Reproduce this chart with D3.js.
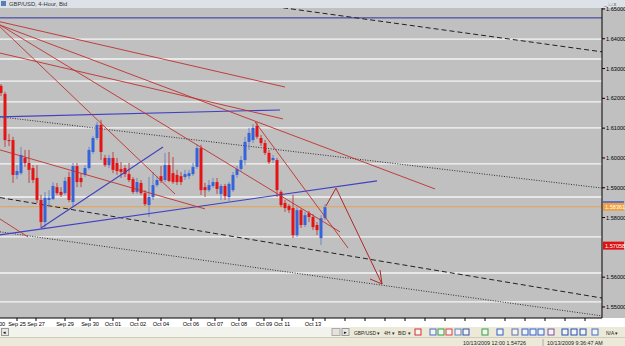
<!DOCTYPE html>
<html>
<head>
<meta charset="utf-8">
<title>GBP/USD 4-Hour</title>
<script src="https://d3js.org/d3.v7.min.js"></script>
<style>
  body { margin: 0; background: #ece9d8; }
  svg { display: block; font-family: "Liberation Sans", Arial, sans-serif; }
</style>
</head>
<body>
<svg id="chart" width="625" height="346"></svg>
<script>
  /* ---------- data ---------- */
  // 4-hour bars, oldest first
  const open = [1.6242,1.6215,1.6060,1.6060,1.5943,1.5949,1.6000,1.5983,1.5966,1.5933,
    1.5859,1.5785,1.5859,1.5862,1.5902,1.5886,1.5882,1.5936,1.5852,1.5973,
    1.5933,1.5943,1.5966,1.6020,1.6067,1.6111,1.6000,1.5976,1.6000,1.5983,
    1.5963,1.5966,1.5946,1.5929,1.5886,1.5916,1.5882,1.5842,1.5869,1.5909,
    1.5939,1.5926,1.5976,1.5949,1.5943,1.5939,1.5936,1.5939,1.5946,1.5970,
    1.6033,1.5902,1.5892,1.5906,1.5919,1.5879,1.5906,1.5869,1.5892,1.5943,
    1.5963,1.5993,1.6054,1.6060,1.6108,1.6067,1.6050,1.6017,1.5993,1.5993,
    1.5886,1.5849,1.5839,1.5832,1.5741,1.5825,1.5775,1.5815,1.5802,1.5775,
    1.5731,1.5798];
  const high = [1.6248,1.6222,1.6081,1.6071,1.5976,1.6037,1.6027,1.6027,1.5976,1.5976,
    1.5876,1.5886,1.5892,1.5919,1.5916,1.5902,1.5936,1.5953,1.5983,1.5983,
    1.5949,1.5976,1.6037,1.6074,1.6121,1.6128,1.6010,1.6010,1.6020,1.6000,
    1.5986,1.5976,1.5983,1.5936,1.5933,1.5926,1.5892,1.5936,1.5953,1.5939,
    1.5973,1.6017,1.6020,1.6003,1.5960,1.5953,1.5960,1.5960,1.5983,1.6044,
    1.6044,1.5916,1.5926,1.5933,1.5933,1.5913,1.5913,1.5919,1.5953,1.5973,
    1.6007,1.6071,1.6101,1.6114,1.6121,1.6077,1.6060,1.6027,1.6010,1.6000,
    1.5892,1.5859,1.5845,1.5876,1.5835,1.5829,1.5819,1.5822,1.5812,1.5785,
    1.5808,1.5845];
  const low = [1.6208,1.6037,1.6040,1.5916,1.5929,1.5943,1.5970,1.5916,1.5916,1.5849,
    1.5765,1.5765,1.5835,1.5859,1.5876,1.5869,1.5876,1.5852,1.5835,1.5902,
    1.5902,1.5936,1.5960,1.6013,1.6060,1.5993,1.5970,1.5966,1.5949,1.5943,
    1.5933,1.5936,1.5919,1.5879,1.5879,1.5876,1.5839,1.5802,1.5859,1.5902,
    1.5916,1.5919,1.5919,1.5913,1.5909,1.5909,1.5926,1.5929,1.5939,1.5963,
    1.5876,1.5869,1.5886,1.5899,1.5879,1.5859,1.5859,1.5855,1.5886,1.5933,
    1.5956,1.5976,1.6027,1.6050,1.6064,1.6040,1.6010,1.5980,1.5983,1.5869,
    1.5835,1.5819,1.5815,1.5731,1.5735,1.5765,1.5768,1.5785,1.5758,1.5741,
    1.5708,1.5792];
  const close = [1.6218,1.6060,1.6057,1.5943,1.5956,1.6010,1.5983,1.5960,1.5926,1.5859,
    1.5785,1.5866,1.5866,1.5906,1.5882,1.5876,1.5923,1.5859,1.5973,1.5919,
    1.5919,1.5966,1.6027,1.6067,1.6111,1.6020,1.5976,1.6000,1.5960,1.5956,
    1.5953,1.5946,1.5926,1.5886,1.5919,1.5882,1.5845,1.5869,1.5909,1.5926,
    1.5923,1.5976,1.5923,1.5919,1.5919,1.5919,1.5946,1.5949,1.5970,1.6033,
    1.5892,1.5892,1.5909,1.5919,1.5896,1.5906,1.5872,1.5913,1.5943,1.5963,
    1.5993,1.6054,1.6084,1.6101,1.6071,1.6050,1.6017,1.5986,1.6000,1.5892,
    1.5842,1.5832,1.5825,1.5741,1.5825,1.5775,1.5808,1.5802,1.5768,1.5758,
    1.5798,1.5835];

  // date labels on the time axis: [bar position, text]
  const dateLabels = [[-0.5,"00"],[4,"Sep 25"],[8.75,"Sep 27"],[16,"Sep 29"],[22.25,"Sep 30"],
    [28,"Oct 01"],[34.25,"Oct 02"],[40,"Oct 04"],[47.5,"Oct 06"],[53.5,"Oct 07"],
    [59.5,"Oct 08"],[65.75,"Oct 09"],[70.25,"Oct 11"],[78,"Oct 13"]];
  const futureTicks = [81,86,91,96,101,106,111,116,121,126,131,136,141,146];
  const priceTicks = [1.65,1.64,1.63,1.62,1.61,1.60,1.59,1.58,1.56,1.55];

  // horizontal levels drawn on the chart
  const whiteLevels = [1.6399,1.6332,1.6258,1.6188,1.6101,1.5980,1.5869,1.5735,1.5614,1.5517];
  const blueLevel = 1.6470;
  const bidLevel = 1.58361;
  const markLevel = 1.57058;

  // trend lines: [[bar, price], [bar, price]]
  const redLines = [
    [[-0.25,1.6457],[71,1.6238]],
    [[-0.25,1.6446],[108.5,1.5896]],
    [[-0.25,1.6352],[70.5,1.6131]],
    [[-0.25,1.6440],[43.5,1.5879]],
    [[-0.25,1.6446],[84.75,1.5752]],
    [[63.5,1.6121],[86.75,1.5698]],
    [[-0.25,1.6027],[51,1.5829]],
    [[-0.25,1.5795],[6.75,1.5735]]
  ];
  const blueLines = [
    [[-0.25,1.6138],[69.75,1.6161]],
    [[-0.25,1.5742],[94,1.5923]],
    [[10,1.5765],[40.5,1.6037]]
  ];
  const dashedLines = [
    [[70.5,1.6504],[150.25,1.6356]],
    [[-0.25,1.5867],[150.25,1.5530]]
  ];
  const dottedLines = [
    [[-0.25,1.6138],[150.25,1.5899]],
    [[-0.25,1.5752],[150.25,1.5470]]
  ];
  const arrowPath = [[81.25,1.5839],[83.75,1.5899],[95.25,1.5577]];
  const arrowHead = [[92.25,1.5594],[95.25,1.5577],[94.75,1.5624]];

  /* ---------- layout ---------- */
  const plotTop = 8, plotBottom = 318, plotRight = 602;
  const svg = d3.select("#chart");

  const x = d3.scaleLinear().domain([0, 81]).range([1, 325]);
  const y = d3.scaleLinear().domain([1.5463, 1.6530]).range([plotBottom, 0]);
  const line = d3.line().x(d => x(d[0])).y(d => y(d[1]));

  // window background pieces
  svg.append("rect").attr("width", 625).attr("height", 346).attr("fill", "#ece9d8");
  svg.append("rect").attr("width", 625).attr("height", plotTop).attr("fill", "#dde2e9");
  svg.append("rect").attr("y", plotTop).attr("width", 625).attr("height", plotBottom - plotTop).attr("fill", "#c0c0c0");
  svg.append("rect").attr("y", plotBottom).attr("width", 625).attr("height", 9).attr("fill", "#ffffff");

  svg.append("defs").append("clipPath").attr("id", "plotClip")
    .append("rect").attr("x", 0).attr("y", plotTop).attr("width", plotRight).attr("height", plotBottom - plotTop);

  const g = svg.append("g").attr("clip-path", "url(#plotClip)");

  // levels
  g.selectAll(".lvl").data(whiteLevels).enter().append("line")
    .attr("x1", 0).attr("x2", plotRight)
    .attr("y1", d => y(d)).attr("y2", d => y(d))
    .attr("stroke", "#f6f6f6").attr("stroke-width", 1.3);

  g.append("line").attr("x1", 0).attr("x2", plotRight)
    .attr("y1", y(blueLevel)).attr("y2", y(blueLevel))
    .attr("stroke", "#3030a0").attr("stroke-width", 1);

  g.append("line").attr("x1", 0).attr("x2", plotRight)
    .attr("y1", y(bidLevel)).attr("y2", y(bidLevel))
    .attr("stroke", "#e8a050").attr("stroke-width", 1);

  // dashed / dotted channel lines
  g.selectAll(".dash").data(dashedLines).enter().append("path")
    .attr("d", line).attr("fill", "none")
    .attr("stroke", "#202020").attr("stroke-width", 1).attr("stroke-dasharray", "5,3");
  g.selectAll(".dot").data(dottedLines).enter().append("path")
    .attr("d", line).attr("fill", "none")
    .attr("stroke", "#303030").attr("stroke-width", 1).attr("stroke-dasharray", "1,1.5");

  // candles
  const idx = d3.range(open.length);
  const up = i => close[i] >= open[i];
  g.selectAll(".wick").data(idx).enter().append("line")
    .attr("x1", i => x(i)).attr("x2", i => x(i))
    .attr("y1", i => y(high[i])).attr("y2", i => y(low[i]))
    .attr("stroke", i => up(i) ? "#6f86c4" : "#b84848").attr("stroke-width", 1);
  g.selectAll(".body").data(idx).enter().append("rect")
    .attr("x", i => x(i) - 1.5).attr("width", 3)
    .attr("y", i => y(Math.max(open[i], close[i])))
    .attr("height", i => Math.max(1, Math.abs(y(open[i]) - y(close[i]))))
    .attr("fill", i => up(i) ? "#3464dc" : "#e41414");

  // drawn lines
  g.selectAll(".blue").data(blueLines).enter().append("path")
    .attr("d", line).attr("fill", "none")
    .attr("stroke", "#4040c4").attr("stroke-width", 1.1);
  g.selectAll(".red").data(redLines).enter().append("path")
    .attr("d", line).attr("fill", "none")
    .attr("stroke", "#c0302e").attr("stroke-width", 0.9);
  g.append("path").attr("d", line(arrowPath)).attr("fill", "none")
    .attr("stroke", "#b02828").attr("stroke-width", 1);
  g.append("path").attr("d", line(arrowHead)).attr("fill", "none")
    .attr("stroke", "#b02828").attr("stroke-width", 1);

  // axes
  svg.append("line").attr("x1", 0).attr("x2", plotRight).attr("y1", plotBottom).attr("y2", plotBottom)
    .attr("stroke", "#000");
  svg.append("line").attr("x1", plotRight).attr("x2", plotRight).attr("y1", plotTop).attr("y2", plotBottom)
    .attr("stroke", "#000");

  svg.selectAll(".ptick").data(priceTicks).enter().append("line")
    .attr("x1", plotRight).attr("x2", plotRight + 3)
    .attr("y1", d => y(d)).attr("y2", d => y(d)).attr("stroke", "#000");
  svg.selectAll(".plabel").data(priceTicks).enter().append("text")
    .attr("x", plotRight + 4).attr("y", d => y(d) + 2)
    .attr("font-size", 5.6).attr("fill", "#000")
    .text(d => d.toFixed(5));

  svg.selectAll(".xtick").data(dateLabels.map(d => d[0]).concat(futureTicks)).enter().append("line")
    .attr("x1", d => x(d)).attr("x2", d => x(d))
    .attr("y1", plotBottom).attr("y2", plotBottom + 3).attr("stroke", "#000");
  svg.selectAll(".xlabel").data(dateLabels).enter().append("text")
    .attr("x", d => x(d[0])).attr("y", plotBottom + 7.5)
    .attr("text-anchor", (d, i) => i === 0 ? "start" : "middle")
    .attr("font-size", 5.6).attr("fill", "#000")
    .text(d => d[1]);

  // price boxes on the right axis
  svg.append("rect").attr("x", plotRight + 1).attr("y", y(bidLevel) - 5.5).attr("width", 21).attr("height", 1.5)
    .attr("fill", "#3050c8");
  svg.append("rect").attr("x", plotRight + 1).attr("y", y(bidLevel) - 4).attr("width", 21).attr("height", 8)
    .attr("fill", "#f0a040");
  svg.append("text").attr("x", plotRight + 3).attr("y", y(bidLevel) + 2).attr("font-size", 5.6)
    .attr("fill", "#fff").text(bidLevel.toFixed(5));
  svg.append("rect").attr("x", plotRight + 1).attr("y", y(markLevel) - 4).attr("width", 21).attr("height", 8)
    .attr("fill", "#e01010");
  svg.append("text").attr("x", plotRight + 3).attr("y", y(markLevel) + 2).attr("font-size", 5.6)
    .attr("fill", "#fff").text(markLevel.toFixed(5));

  // title bar
  svg.append("rect").attr("x", 1).attr("y", 1).attr("width", 5).attr("height", 5).attr("fill", "#5a7fb8");
  svg.append("text").attr("x", 9).attr("y", 6).attr("font-size", 5.8).attr("fill", "#333")
    .text("GBP/USD, 4-Hour, Bid");
  svg.append("text").attr("x", 604).attr("y", 5.5).attr("font-size", 5.6).attr("fill", "#555")
    .text("_  □  x");

  // scrollbar + toolbar
  svg.append("rect").attr("x", 0).attr("y", 327).attr("width", 350).attr("height", 10).attr("fill", "#f3f3ee");
  svg.append("rect").attr("x", 1.5).attr("y", 328.5).attr("width", 7).attr("height", 7)
    .attr("fill", "#e8e8e2").attr("stroke", "#999");
  svg.append("text").attr("x", 3).attr("y", 334).attr("font-size", 5).text("◂");
  svg.append("rect").attr("x", 332).attr("y", 328.5).attr("width", 8).attr("height", 7)
    .attr("fill", "#e4e2da").attr("stroke", "#aaa");
  svg.append("rect").attr("x", 342).attr("y", 328.5).attr("width", 7).attr("height", 7)
    .attr("fill", "#e8e8e2").attr("stroke", "#999");
  svg.append("text").attr("x", 343.5).attr("y", 334).attr("font-size", 5).text("▸");

  const toolText = [[354, "GBP/USD ▾"], [384, "4H ▾"], [398, "BID ▾"], [606, "N/A ▾"]];
  svg.selectAll(".tool").data(toolText).enter().append("text")
    .attr("x", d => d[0]).attr("y", 334.5).attr("font-size", 4.9).attr("fill", "#222")
    .text(d => d[1]);
  const icons = [[415,"#d03030"],[430,"#4a6fc0"],[438,"#30a040"],[446,"#e04040"],[455,"#6080c0"],
    [463,"#3050a0"],[482,"#30a040"],[497,"#3060c0"],[512,"#6070a0"],[522,"#3060d0"],[530,"#3060d0"],
    [538,"#3060d0"],[548,"#8050a0"],[562,"#2050b0"],[571,"#2050b0"],[580,"#2050b0"],[592,"#4070c0"]];
  svg.selectAll(".icon").data(icons).enter().append("rect")
    .attr("x", d => d[0]).attr("y", 329).attr("width", 6).attr("height", 6)
    .attr("fill", "#f4f4f4").attr("stroke", d => d[1]).attr("stroke-width", 1);

  // status bar
  svg.append("line").attr("x1", 0).attr("x2", 625).attr("y1", 337.5).attr("y2", 337.5).attr("stroke", "#cfcbbd");
  svg.append("text").attr("x", 463).attr("y", 344.5).attr("font-size", 5.4).attr("fill", "#222")
    .text("10/13/2009 12:00   1.54726");
  svg.append("line").attr("x1", 543).attr("x2", 543).attr("y1", 339).attr("y2", 346).attr("stroke", "#aaa");
  svg.append("text").attr("x", 547).attr("y", 344.5).attr("font-size", 5.4).attr("fill", "#222")
    .text("10/13/2009 9:36:47 AM");
</script>
</body>
</html>
